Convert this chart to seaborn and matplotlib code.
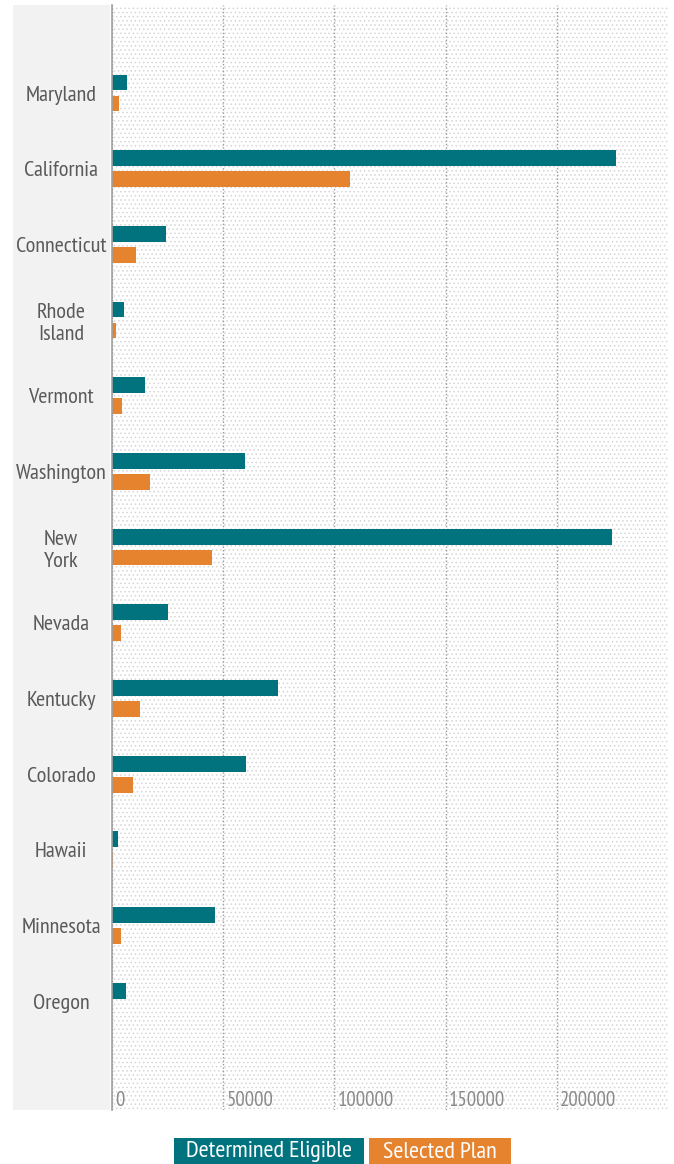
"""
Eligibility vs. plan selection per state
========================================

Horisontalt stolpediagram: antall personer som ble vurdert som kvalifisert
(Determined Eligible) og antall som valgte plan (Selected Plan) per stat.
"""

import pandas as pd
import matplotlib
matplotlib.use("Agg")
import matplotlib.pyplot as plt
import matplotlib.transforms as mtransforms
from matplotlib.patches import Rectangle
import seaborn as sns

# Data (lest av figuren)
states = ["Maryland", "California", "Connecticut", "Rhode Island", "Vermont",
          "Washington", "New York", "Nevada", "Kentucky", "Colorado",
          "Hawaii", "Minnesota", "Oregon"]
state_labels = ["Maryland", "California", "Connecticut", "Rhode\nIsland",
                "Vermont", "Washington", "New\nYork", "Nevada", "Kentucky",
                "Colorado", "Hawaii", "Minnesota", "Oregon"]
eligible = [6900, 226400, 24200, 5500, 15000, 59600, 224900, 25400, 74800,
            60300, 2500, 46100, 6400]
selected = [3000, 107000, 11000, 1900, 4300, 17200, 44900, 4200, 12400,
            9600, 400, 4200, 0]
series = ["Determined Eligible", "Selected Plan"]
x_ticks = [0, 50000, 100000, 150000, 200000]

TEAL = "#00737e"
ORANGE = "#e5832f"
W, H, DPI = 674, 1164, 100
FONTS = ["PT Sans Narrow", "Ubuntu Condensed", "Roboto Condensed",
         "Archivo Narrow", "DejaVu Sans"]


def fx(px):
    return px / W


def fy(px):
    return 1 - px / H


# Long format for seaborn
df = pd.DataFrame({
    "state": states * 2,
    "value": eligible + selected,
    "series": [series[0]] * len(states) + [series[1]] * len(states),
})

sns.set_theme(style="white")
plt.rcParams["font.family"] = FONTS
plt.rcParams["hatch.linewidth"] = 0.6

fig = plt.figure(figsize=(W / DPI, H / DPI), dpi=DPI)
fig.patch.set_facecolor("white")

# Grått felt bak statnavnene
fig.patches.append(Rectangle((fx(13), fy(1110)), fx(110 - 13), (1110 - 5) / H,
                             transform=fig.transFigure, facecolor="#f2f2f2",
                             edgecolor="none", zorder=-1))

ax = fig.add_axes([fx(112), fy(1110), fx(668 - 112), (1110 - 5) / H])
ax.set_facecolor("none")

# Prikkemønster i plottområdet
ax.add_patch(Rectangle((0, 0), 1, 1, transform=ax.transAxes, facecolor="white",
                       edgecolor="#d6d6d6", hatch="....", linewidth=0, zorder=0))

sns.barplot(data=df, y="state", x="value", hue="series", order=states,
            hue_order=series, palette=[TEAL, ORANGE], orient="h",
            width=0.555, gap=0.24, linewidth=0, saturation=1,
            legend=False, ax=ax, zorder=3)

ax.set_xlim(0, 250000)
ax.set_ylim(13.44, -1.163)
ax.set_xlabel("")
ax.set_ylabel("")

# Stiplede gridlinjer
ax.set_xticks(x_ticks)
ax.xaxis.grid(True, linestyle=(0, (1, 1.5)), color="#9a9a9a", linewidth=1)
ax.yaxis.grid(False)
ax.set_axisbelow(True)
for gl in ax.get_xgridlines():
    gl.set_zorder(1)

for side in ["top", "right", "bottom"]:
    ax.spines[side].set_visible(False)
ax.spines["left"].set_color("#a0a0a0")
ax.spines["left"].set_linewidth(1.2)
ax.spines["left"].set_zorder(4)

# Tick-etiketter
ax.set_yticks(range(len(states)))
ax.set_yticklabels(state_labels)
ax.tick_params(axis="y", length=0, pad=36.7, labelsize=16, labelcolor="#5a5a5a")
for lab in ax.get_yticklabels():
    lab.set_ha("center")
    lab.set_multialignment("center")

ax.set_xticklabels([str(v) for v in x_ticks])
ax.tick_params(axis="x", length=0, pad=-14, labelsize=15, labelcolor="#8a8a8a")
offset = mtransforms.ScaledTranslation(3 / DPI, 0, fig.dpi_scale_trans)
for lab in ax.get_xticklabels():
    lab.set_ha("left")
    lab.set_va("top")
    lab.set_transform(lab.get_transform() + offset)

# Legende som fargede bokser
legend_boxes = [(174, 364, TEAL), (369, 511, ORANGE)]
for name, (x0, x1, col) in zip(series, legend_boxes):
    fig.patches.append(Rectangle((fx(x0), fy(1172)), fx(x1 - x0), 34 / H,
                                 transform=fig.transFigure, facecolor=col,
                                 edgecolor="none"))
    fig.text(fx((x0 + x1) / 2), fy(1152), name, color="white", fontsize=17.5,
             ha="center", va="center")

fig.savefig("out.png", dpi=DPI, facecolor="white")
